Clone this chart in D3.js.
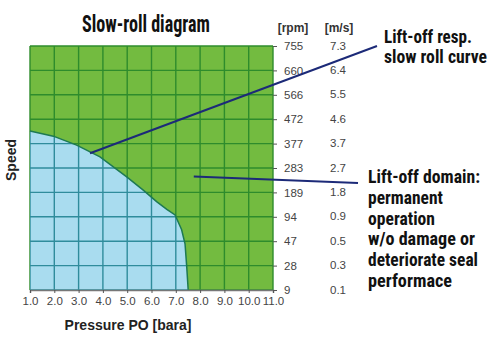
<!DOCTYPE html>
<html><head><meta charset="utf-8">
<script src="https://cdn.jsdelivr.net/npm/d3@7"></script>
<style>
body{margin:0;background:#fff;}
svg{display:block;}
.cond{font-family:'Liberation Sans Narrow','Roboto Condensed','DejaVu Sans Condensed',sans-serif;font-weight:bold;fill:#111;}
</style></head><body>
<svg id="c" width="499" height="345"></svg>
<script>
// ---- data ----
const pressureTicks = [1,2,3,4,5,6,7,8,9,10,11];
const rpmTicks = [9,28,47,94,189,283,377,472,566,660,755];
const msTicks = ["0.1","0.3","0.5","0.9","1.8","2.7","3.7","4.6","5.5","6.4","7.3"];
const boundaryPressure = [1.0,1.96,2.92,3.88,4.98,5.66,6.21,6.63,6.97,7.24,7.38,7.45,7.51];
const boundarySpeed    = [426,406,371,326,249,198,153,123,101,69,45,27,9];
const titleText = "Slow-roll diagram";
const curveLabel = ["Lift-off resp.","slow roll curve"];
const domainLabel = ["Lift-off domain:","permanent","operation","w/o damage or","deteriorate seal","performace"];
const curvePointer = {p:3.47, s:340};
const domainPointer = {p:7.74, s:250};

// ---- layout ----
const L=30,R=273,T=46,B=290;
const svg=d3.select("#c");
const x=d3.scaleLinear().domain([1,11]).range([L,R]);
const y=d3.scaleLinear().domain(rpmTicks).range(rpmTicks.map((d,i)=>B-(B-T)*i/(rpmTicks.length-1)));

// condensed text fitted to a width by horizontal scaling
function fitText(parent,str,tx,ty,size,w){
  const t=parent.append("text").attr("class","cond").attr("font-size",size).text(str);
  const nat=t.node().getComputedTextLength();
  t.attr("transform",`translate(${tx},${ty}) scale(${w/nat},1)`);
  return t;
}

// title
fitText(svg,titleText,82,31.5,23,128);

// green background
svg.append("rect").attr("x",L).attr("y",T).attr("width",R-L).attr("height",B-T).attr("fill","#73bb40");

function grid(g,color){
  g.selectAll("line.v").data(pressureTicks).join("line").attr("class","v")
    .attr("x1",d=>x(d)).attr("x2",d=>x(d)).attr("y1",T).attr("y2",B)
    .attr("stroke",color).attr("stroke-width",1.4);
  g.selectAll("line.h").data(rpmTicks).join("line").attr("class","h")
    .attr("x1",L).attr("x2",R).attr("y1",d=>y(d)).attr("y2",d=>y(d))
    .attr("stroke",color).attr("stroke-width",1.4);
}
grid(svg.append("g"),"#2e8c2c");

// blue area
const pts=boundaryPressure.map((p,i)=>[p,boundarySpeed[i]]);
const areaPath=d3.line().x(d=>x(d[0])).y(d=>y(d[1]))(pts.concat([[1,9]]));
svg.append("defs").append("clipPath").attr("id","bc").append("path").attr("d",areaPath+"Z");
svg.append("path").attr("d",areaPath+"Z").attr("fill","#a9dcef");
grid(svg.append("g").attr("clip-path","url(#bc)"),"#2f8c9c");
svg.append("path").attr("d",d3.line().x(d=>x(d[0])).y(d=>y(d[1]))(pts))
  .attr("fill","none").attr("stroke","#1e7a52").attr("stroke-width",1.5);

// axes
const xa=svg.append("g").attr("transform",`translate(0,${B})`)
  .call(d3.axisBottom(x).tickValues(pressureTicks).tickFormat(d3.format(".1f")).tickSize(3).tickPadding(4));
xa.select(".domain").attr("stroke","#777").attr("stroke-width",1.5);
xa.selectAll(".tick line").attr("stroke","#555");
xa.selectAll("text").attr("font-family","'Liberation Sans',Arial,sans-serif").attr("font-size",11.5).attr("fill","#444");

const ya=svg.append("g").attr("transform",`translate(${R},0)`)
  .call(d3.axisRight(y).tickValues(rpmTicks).tickFormat(d=>d).tickSize(4).tickPadding(7));
ya.select(".domain").attr("stroke","none");
ya.selectAll(".tick line").attr("stroke","#555");
ya.selectAll("text").attr("font-family","'Liberation Sans',Arial,sans-serif").attr("font-size",11.5).attr("fill","#444");

svg.append("g").selectAll("text").data(rpmTicks).join("text")
  .attr("x",330).attr("y",d=>y(d)).attr("dy","0.32em")
  .attr("font-family","'Liberation Sans',Arial,sans-serif").attr("font-size",11.5).attr("fill","#444")
  .text((d,i)=>msTicks[i]);

// headers
svg.append("text").attr("x",293).attr("y",32).attr("text-anchor","middle")
  .attr("font-family","'Liberation Sans',Arial,sans-serif").attr("font-weight","bold").attr("font-size",12).attr("fill","#333").text("[rpm]");
svg.append("text").attr("x",339).attr("y",32).attr("text-anchor","middle")
  .attr("font-family","'Liberation Sans',Arial,sans-serif").attr("font-weight","bold").attr("font-size",12).attr("fill","#333").text("[m/s]");

// axis titles
svg.append("text").attr("transform","translate(16,160) rotate(-90)").attr("text-anchor","middle")
  .attr("font-family","'Liberation Sans',Arial,sans-serif").attr("font-weight","bold").attr("font-size",14).attr("fill","#222").text("Speed");
svg.append("text").attr("x",128).attr("y",330).attr("text-anchor","middle")
  .attr("font-family","'Liberation Sans',Arial,sans-serif").attr("font-weight","bold").attr("font-size",14).attr("fill","#222").text("Pressure PO [bara]");

// pointer lines
svg.append("line").attr("x1",x(curvePointer.p)).attr("y1",y(curvePointer.s)).attr("x2",377).attr("y2",46)
  .attr("stroke","#1c2a78").attr("stroke-width",2);
svg.append("line").attr("x1",x(domainPointer.p)).attr("y1",y(domainPointer.s)).attr("x2",358).attr("y2",183)
  .attr("stroke","#1c2a78").attr("stroke-width",2);

// annotations
const cw=[88,103];
const gc=svg.append("g");
curveLabel.forEach((s,i)=>fitText(gc,s,384,43.3+i*20,17.8,cw[i]));
const dw=[112,75,67,107,110,84];
const gd=svg.append("g");
domainLabel.forEach((s,i)=>fitText(gd,s,368,183.3+i*20.7,18.4,dw[i]));
</script></body></html>
